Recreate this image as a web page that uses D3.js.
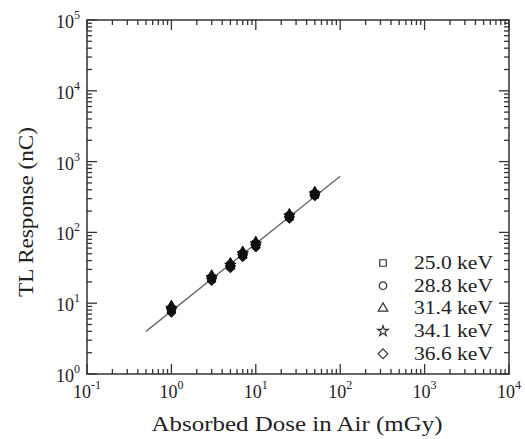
<!DOCTYPE html>
<html>
<head>
<meta charset="utf-8">
<script src="https://cdn.jsdelivr.net/npm/d3@7"></script>
<style>
  html, body { margin: 0; padding: 0; background: #fff; }
  svg { display: block; }
  text { font-family: "Liberation Serif", "Times New Roman", Tinos, serif; fill: #222; }
</style>
</head>
<body>
<svg id="chart" width="525" height="439"></svg>
<script>
// ---- data ----
const doses = [1, 3, 5, 7, 10, 25, 50];              // mGy
const seriesNames = ["25.0 keV", "28.8 keV", "31.4 keV", "34.1 keV", "36.6 keV"];
const seriesSymbols = ["square", "circle", "triangle", "star", "diamond"];
const s25_0 = [8.2, 22.5, 34.0, 49, 68, 168, 345];
const s28_8 = [8.0, 22.0, 33.0, 47, 66, 165, 340];
const s31_4 = [9.1, 24.5, 36.5, 53, 73, 180, 370];
const s34_1 = [8.4, 23.0, 34.5, 50, 69, 171, 352];
const s36_6 = [7.3, 20.5, 31.0, 44.5, 61, 155, 322];
const seriesValues = [s25_0, s28_8, s31_4, s34_1, s36_6];
const fitLine = [[0.5, 4.0], [100, 620]];            // fitted line endpoints
const xDecades = [-1, 0, 1, 2, 3, 4];
const yDecades = [0, 1, 2, 3, 4, 5];
const xTitle = "Absorbed Dose in Air (mGy)";
const yTitle = "TL Response (nC)";

// ---- layout ----
const L = 87, R = 509, T = 20, B = 374;
const svg = d3.select("#chart");
const x = d3.scaleLog().domain([0.1, 10000]).range([L, R]);
const y = d3.scaleLog().domain([1, 100000]).range([B, T]);
const axisColor = "#333";

// frame
svg.append("rect").attr("x", L).attr("y", T).attr("width", R - L).attr("height", B - T)
  .attr("fill", "none").attr("stroke", axisColor).attr("stroke-width", 1.5);

// ticks (inside, on all four sides)
function logTicks(decs) {
  const out = [];
  for (let i = 0; i < decs.length; i++) {
    out.push({v: Math.pow(10, decs[i]), major: true});
    if (i < decs.length - 1) for (let m = 2; m <= 9; m++) out.push({v: m * Math.pow(10, decs[i]), major: false});
  }
  return out;
}
const tg = svg.append("g").attr("stroke", axisColor).attr("stroke-width", 1.3);
logTicks(xDecades).forEach(t => {
  const len = t.major ? 10 : 5, px = x(t.v);
  tg.append("line").attr("x1", px).attr("x2", px).attr("y1", B).attr("y2", B - len);
  tg.append("line").attr("x1", px).attr("x2", px).attr("y1", T).attr("y2", T + len);
});
logTicks(yDecades).forEach(t => {
  const len = t.major ? 10 : 5, py = y(t.v);
  tg.append("line").attr("x1", L).attr("x2", L + len).attr("y1", py).attr("y2", py);
  tg.append("line").attr("x1", R).attr("x2", R - len).attr("y1", py).attr("y2", py);
});

// tick labels
function expLabel(sel, e) {
  sel.append("tspan").text("10");
  sel.append("tspan").attr("font-size", 12).attr("dy", -9).text(String(e));
}
xDecades.forEach(e => {
  const t = svg.append("text").attr("x", x(Math.pow(10, e))).attr("y", 398)
    .attr("text-anchor", "middle").attr("font-size", 18);
  expLabel(t, e);
});
yDecades.forEach(e => {
  const t = svg.append("text").attr("x", 80).attr("y", y(Math.pow(10, e)) + 8)
    .attr("text-anchor", "end").attr("font-size", 18);
  expLabel(t, e);
});

// axis titles
svg.append("text").attr("x", 297).attr("y", 431).attr("text-anchor", "middle")
  .attr("font-size", 22).attr("textLength", 291).attr("lengthAdjust", "spacingAndGlyphs").text(xTitle);
svg.append("text").attr("transform", "translate(33,212) rotate(-90)").attr("text-anchor", "middle")
  .attr("font-size", 22).attr("textLength", 170).attr("lengthAdjust", "spacingAndGlyphs").text(yTitle);

// fit line
svg.append("path").datum(fitLine)
  .attr("d", d3.line().x(d => x(d[0])).y(d => y(d[1])))
  .attr("stroke", "#666").attr("stroke-width", 1.3).attr("fill", "none");

// symbols
const symMap = {square: d3.symbolSquare, circle: d3.symbolCircle, triangle: d3.symbolTriangle,
                star: d3.symbolStar, diamond: d3.symbolDiamond2};
const plotSize = {square: 55, circle: 55, triangle: 45, star: 40, diamond: 50};
const legSize = {square: 42, circle: 45, triangle: 40, star: 34, diamond: 60};
seriesValues.forEach((vals, si) => {
  const sym = seriesSymbols[si];
  svg.append("g").selectAll("path").data(vals).join("path")
    .attr("transform", (v, i) => `translate(${x(doses[i])},${y(v)})`)
    .attr("d", d3.symbol(symMap[sym], plotSize[sym]))
    .attr("fill", "#111").attr("stroke", "#111").attr("stroke-width", 1);
});

// legend
const legY0 = 263, legDy = 22.7;
seriesNames.forEach((name, i) => {
  const sym = seriesSymbols[i];
  const cy = legY0 + i * legDy;
  svg.append("path").attr("transform", `translate(383,${cy})`)
    .attr("d", d3.symbol(symMap[sym], legSize[sym]))
    .attr("fill", "none").attr("stroke", "#333").attr("stroke-width", 1.2);
  svg.append("text").attr("x", 414).attr("y", cy + 6).attr("font-size", 18)
    .attr("textLength", 79).attr("lengthAdjust", "spacingAndGlyphs").text(name);
});
</script>
</body>
</html>
